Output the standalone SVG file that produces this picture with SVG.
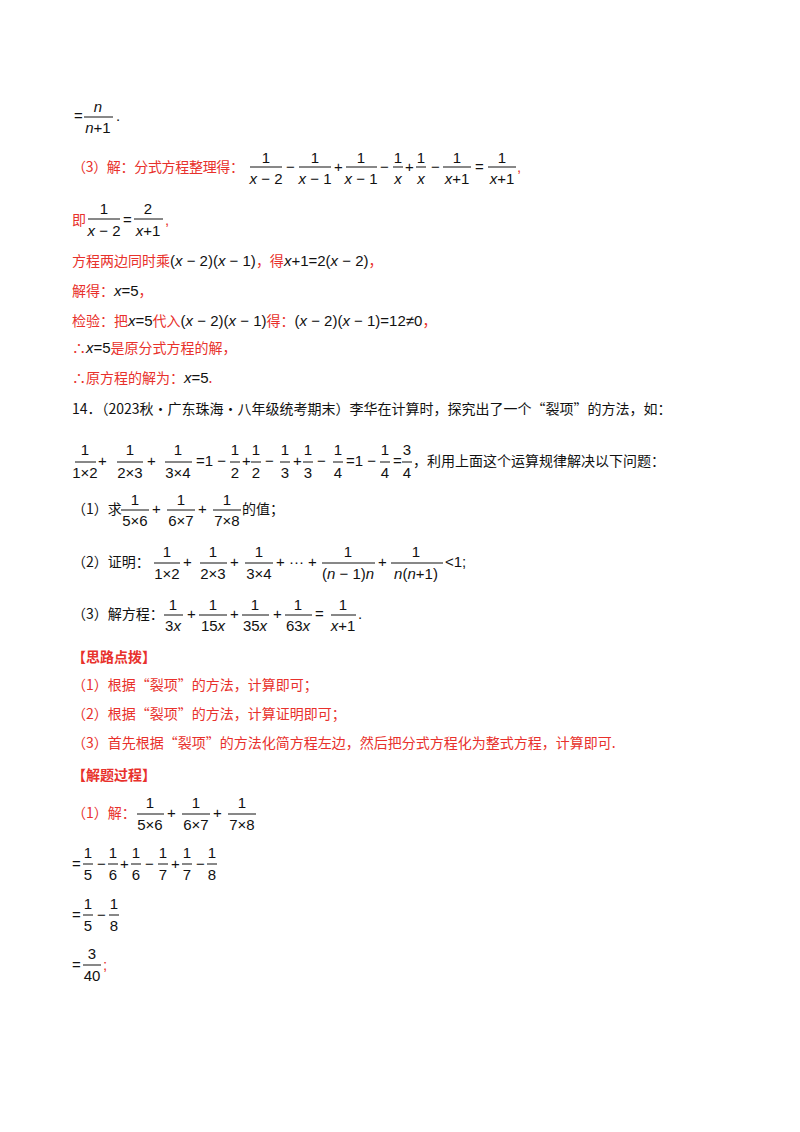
<svg xmlns="http://www.w3.org/2000/svg" width="800" height="1132" viewBox="0 0 800 1132">
<style>
text{font-family:"Liberation Sans","Noto Sans CJK SC",sans-serif;font-size:15px;fill:#111}
.r,.r text{fill:#e8312c}
.c{font-family:"Noto Sans CJK SC",sans-serif;font-size:14px}
.b{font-weight:bold}
.m{text-anchor:middle}
.i{font-style:italic}
line{stroke:#111;stroke-width:1}
</style>
<rect width="800" height="1132" fill="#fff"/>
<text x="74" y="121">=</text>
<text class="m i" x="98" y="112">n</text><line x1="84" y1="117" x2="113" y2="117"/><text class="m" x="98" y="133"><tspan font-style="italic">n</tspan>+1</text>
<text x="116" y="121">.</text>
<text class="c r" x="72" y="172" textLength="172">（3）解：分式方程整理得：</text>
<g>
<text class="m" x="266" y="163">1</text><line x1="250" y1="167" x2="282" y2="167"/><text class="m" x="266" y="184"><tspan font-style="italic">x</tspan> − 2</text>
<text x="286" y="172">−</text>
<text class="m" x="315" y="163">1</text><line x1="299" y1="167" x2="331" y2="167"/><text class="m" x="315" y="184"><tspan font-style="italic">x</tspan> − 1</text>
<text x="334" y="172">+</text>
<text class="m" x="361" y="163">1</text><line x1="346" y1="167" x2="377" y2="167"/><text class="m" x="361" y="184"><tspan font-style="italic">x</tspan> − 1</text>
<text x="380" y="172">−</text>
<text class="m" x="398" y="163">1</text><line x1="393" y1="167" x2="403" y2="167"/><text class="m i" x="398" y="184">x</text>
<text x="405" y="172">+</text>
<text class="m" x="421" y="163">1</text><line x1="416" y1="167" x2="426" y2="167"/><text class="m i" x="421" y="184">x</text>
<text x="431" y="172">−</text>
<text class="m" x="457" y="163">1</text><line x1="443" y1="167" x2="471" y2="167"/><text class="m" x="457" y="184"><tspan font-style="italic">x</tspan>+1</text>
<text x="475" y="172">=</text>
<text class="m" x="502" y="163">1</text><line x1="488" y1="167" x2="516" y2="167"/><text class="m" x="502" y="184"><tspan font-style="italic">x</tspan>+1</text>
<text class="r" x="517" y="172">,</text>
</g>
<text class="c r" x="72" y="225">即</text>
<text class="m" x="104" y="214">1</text><line x1="88" y1="219" x2="120" y2="219"/><text class="m" x="104" y="236"><tspan font-style="italic">x</tspan> − 2</text>
<text x="123" y="225">=</text>
<text class="m" x="148" y="214">2</text><line x1="134" y1="219" x2="163" y2="219"/><text class="m" x="148" y="236"><tspan font-style="italic">x</tspan>+1</text>
<text class="r" x="165" y="225">,</text>
<text x="72" y="266"><tspan class="c r">方程两边同时乘</tspan>(<tspan font-style="italic">x</tspan> − 2)(<tspan font-style="italic">x</tspan> − 1)<tspan class="c r">，得</tspan><tspan font-style="italic">x</tspan>+1=2(<tspan font-style="italic">x</tspan> − 2)<tspan class="c r">，</tspan></text>
<text x="72" y="296"><tspan class="c r">解得：</tspan><tspan font-style="italic">x</tspan>=5<tspan class="c r">，</tspan></text>
<text x="72" y="326"><tspan class="c r">检验：把</tspan><tspan font-style="italic">x</tspan>=5<tspan class="c r">代入</tspan>(<tspan font-style="italic">x</tspan> − 2)(<tspan font-style="italic">x</tspan> − 1)<tspan class="c r">得：</tspan>(<tspan font-style="italic">x</tspan> − 2)(<tspan font-style="italic">x</tspan> − 1)=12≠0<tspan class="c r">，</tspan></text>
<text x="72" y="353"><tspan class="c r">∴</tspan><tspan font-style="italic">x</tspan>=5<tspan class="c r">是原分式方程的解，</tspan></text>
<text x="72" y="383"><tspan class="c r">∴原方程的解为：</tspan><tspan font-style="italic">x</tspan>=5<tspan class="c r">.</tspan></text>
<text class="c" x="72" y="414">14．（2023秋·广东珠海·八年级统考期末）李华在计算时，探究出了一个“裂项”的方法，如：</text>
<g>
<text class="m" x="85" y="455">1</text><line x1="75" y1="462" x2="96" y2="462"/><text class="m" x="85" y="478">1×2</text>
<text x="98" y="466">+</text>
<text class="m" x="130" y="455">1</text><line x1="117" y1="462" x2="143" y2="462"/><text class="m" x="130" y="478">2×3</text>
<text x="147" y="466">+</text>
<text class="m" x="178" y="455">1</text><line x1="165" y1="462" x2="192" y2="462"/><text class="m" x="178" y="478">3×4</text>
<text x="196" y="466">=1 −</text>
<text class="m" x="235" y="455">1</text><line x1="230" y1="462" x2="240" y2="462"/><text class="m" x="235" y="478">2</text>
<text x="242" y="466">+</text>
<text class="m" x="256" y="455">1</text><line x1="251" y1="462" x2="261" y2="462"/><text class="m" x="256" y="478">2</text>
<text x="265" y="466">−</text>
<text class="m" x="285" y="455">1</text><line x1="280" y1="462" x2="290" y2="462"/><text class="m" x="285" y="478">3</text>
<text x="293" y="466">+</text>
<text class="m" x="308" y="455">1</text><line x1="303" y1="462" x2="313" y2="462"/><text class="m" x="308" y="478">3</text>
<text x="317" y="466">−</text>
<text class="m" x="338" y="455">1</text><line x1="333" y1="462" x2="343" y2="462"/><text class="m" x="338" y="478">4</text>
<text x="346" y="466">=1 −</text>
<text class="m" x="385" y="455">1</text><line x1="380" y1="462" x2="390" y2="462"/><text class="m" x="385" y="478">4</text>
<text x="393" y="466">=</text>
<text class="m" x="407" y="455">3</text><line x1="402" y1="462" x2="412" y2="462"/><text class="m" x="407" y="478">4</text>
<text class="c" x="413" y="466">，利用上面这个运算规律解决以下问题：</text>
</g>
<g>
<text class="c" x="72" y="514">（1）求</text>
<text class="m" x="135" y="505">1</text><line x1="121" y1="510" x2="149" y2="510"/><text class="m" x="135" y="526">5×6</text>
<text x="152" y="514">+</text>
<text class="m" x="181" y="505">1</text><line x1="167" y1="510" x2="195" y2="510"/><text class="m" x="181" y="526">6×7</text>
<text x="198" y="514">+</text>
<text class="m" x="227" y="505">1</text><line x1="213" y1="510" x2="241" y2="510"/><text class="m" x="227" y="526">7×8</text>
<text class="c" x="242" y="514">的值；</text>
</g>
<g>
<text class="c" x="72" y="567">（2）证明：</text>
<text class="m" x="167" y="557">1</text><line x1="154" y1="563" x2="180" y2="563"/><text class="m" x="167" y="579">1×2</text>
<text x="183" y="567">+</text>
<text class="m" x="213" y="557">1</text><line x1="200" y1="563" x2="227" y2="563"/><text class="m" x="213" y="579">2×3</text>
<text x="230" y="567">+</text>
<text class="m" x="259" y="557">1</text><line x1="245" y1="563" x2="273" y2="563"/><text class="m" x="259" y="579">3×4</text>
<text x="276" y="567">+ ··· +</text>
<text class="m" x="348" y="557">1</text><line x1="322" y1="563" x2="375" y2="563"/><text class="m" x="348" y="579">(<tspan font-style="italic">n</tspan> − 1)<tspan font-style="italic">n</tspan></text>
<text x="378" y="567">+</text>
<text class="m" x="416" y="557">1</text><line x1="391" y1="563" x2="443" y2="563"/><text class="m" x="416" y="579"><tspan font-style="italic">n</tspan>(<tspan font-style="italic">n</tspan>+1)</text>
<text x="445" y="567">&lt;1;</text>
</g>
<g>
<text class="c" x="72" y="619">（3）解方程：</text>
<text class="m" x="173" y="610">1</text><line x1="164" y1="615" x2="183" y2="615"/><text class="m" x="173" y="631">3<tspan font-style="italic">x</tspan></text>
<text x="187" y="619">+</text>
<text class="m" x="213" y="610">1</text><line x1="199" y1="615" x2="227" y2="615"/><text class="m" x="213" y="631">15<tspan font-style="italic">x</tspan></text>
<text x="230" y="619">+</text>
<text class="m" x="255" y="610">1</text><line x1="242" y1="615" x2="269" y2="615"/><text class="m" x="255" y="631">35<tspan font-style="italic">x</tspan></text>
<text x="273" y="619">+</text>
<text class="m" x="298" y="610">1</text><line x1="285" y1="615" x2="312" y2="615"/><text class="m" x="298" y="631">63<tspan font-style="italic">x</tspan></text>
<text x="315" y="619">=</text>
<text class="m" x="343" y="610">1</text><line x1="331" y1="615" x2="356" y2="615"/><text class="m" x="343" y="631"><tspan font-style="italic">x</tspan>+1</text>
<text x="358" y="619">.</text>
</g>
<text class="c r b" x="72" y="662">【思路点拨】</text>
<text class="c r" x="72" y="690">（1）根据“裂项”的方法，计算即可；</text>
<text class="c r" x="72" y="719">（2）根据“裂项”的方法，计算证明即可；</text>
<text class="c r" x="72" y="748">（3）首先根据“裂项”的方法化简方程左边，然后把分式方程化为整式方程，计算即可.</text>
<text class="c r b" x="72" y="780">【解题过程】</text>
<g>
<text class="c r" x="72" y="818">（1）解：</text>
<text class="m" x="150" y="808">1</text><line x1="137" y1="814" x2="164" y2="814"/><text class="m" x="150" y="830">5×6</text>
<text x="167" y="818">+</text>
<text class="m" x="196" y="808">1</text><line x1="182" y1="814" x2="210" y2="814"/><text class="m" x="196" y="830">6×7</text>
<text x="213" y="818">+</text>
<text class="m" x="242" y="808">1</text><line x1="228" y1="814" x2="256" y2="814"/><text class="m" x="242" y="830">7×8</text>
</g>
<g>
<text x="72" y="869">=</text>
<text class="m" x="88" y="858">1</text><line x1="83" y1="864" x2="93" y2="864"/><text class="m" x="88" y="880">5</text>
<text x="97" y="869">−</text>
<text class="m" x="113" y="858">1</text><line x1="108" y1="864" x2="118" y2="864"/><text class="m" x="113" y="880">6</text>
<text x="120" y="869">+</text>
<text class="m" x="136" y="858">1</text><line x1="131" y1="864" x2="141" y2="864"/><text class="m" x="136" y="880">6</text>
<text x="145" y="869">−</text>
<text class="m" x="163" y="858">1</text><line x1="158" y1="864" x2="168" y2="864"/><text class="m" x="163" y="880">7</text>
<text x="171" y="869">+</text>
<text class="m" x="187" y="858">1</text><line x1="182" y1="864" x2="192" y2="864"/><text class="m" x="187" y="880">7</text>
<text x="196" y="869">−</text>
<text class="m" x="212" y="858">1</text><line x1="207" y1="864" x2="217" y2="864"/><text class="m" x="212" y="880">8</text>
</g>
<g>
<text x="72" y="920">=</text>
<text class="m" x="88" y="909">1</text><line x1="83" y1="915" x2="93" y2="915"/><text class="m" x="88" y="931">5</text>
<text x="97" y="920">−</text>
<text class="m" x="114" y="909">1</text><line x1="109" y1="915" x2="119" y2="915"/><text class="m" x="114" y="931">8</text>
</g>
<g>
<text x="72" y="970">=</text>
<text class="m" x="92" y="959">3</text><line x1="83" y1="965" x2="101" y2="965"/><text class="m" x="92" y="981">40</text>
<text class="r" x="103" y="970">;</text>
</g>
</svg>
